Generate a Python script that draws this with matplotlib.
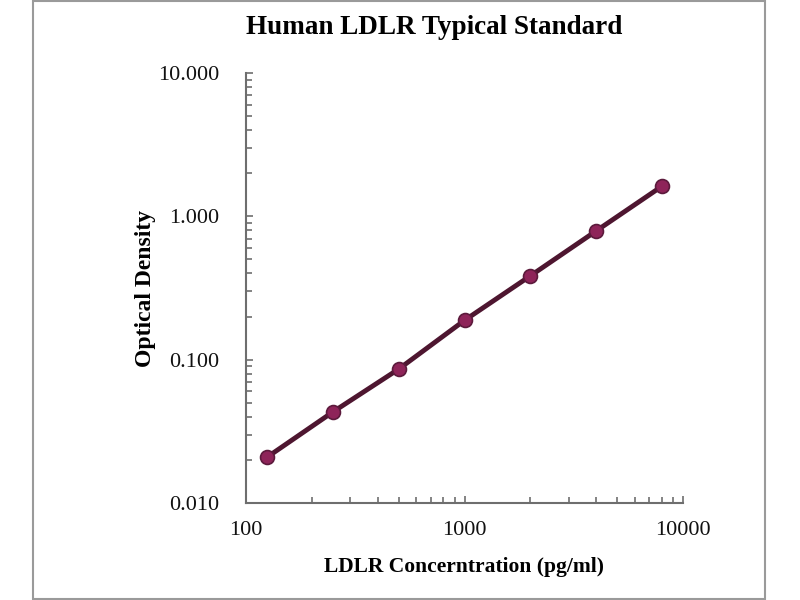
import matplotlib
matplotlib.use("Agg")
import matplotlib.pyplot as plt
from matplotlib.patches import Rectangle
from matplotlib.ticker import FixedLocator, FixedFormatter, LogLocator, NullFormatter
import numpy as np

# standard curve data
conc = [125, 250, 500, 1000, 2000, 4000, 8000]
od = [0.0209, 0.0432, 0.086, 0.188, 0.384, 0.79, 1.62]

x_ticks = [100, 1000, 10000]
x_labels = ["100", "1000", "10000"]
y_ticks = [0.01, 0.1, 1, 10]
y_labels = ["0.010", "0.100", "1.000", "10.000"]

plt.rcParams['font.family'] = ['Liberation Serif', 'DejaVu Serif']

fig = plt.figure(figsize=(8, 6), dpi=100)
fig.patches.append(Rectangle((33 / 800, 0.001), 732 / 800, 0.997, transform=fig.transFigure,
                             fill=False, edgecolor='#9a9a9a', linewidth=1.5))

ax = fig.add_axes([246 / 800, 1 - 503 / 600, (683 - 246) / 800, (503 - 73) / 600])
ax.set_xscale('log')
ax.set_yscale('log')
ax.set_xlim(100, 10000)
ax.set_ylim(0.01, 10)

ax.plot(conc, od, color='#4e1630', linewidth=3.5, zorder=2)
ax.plot(conc, od, linestyle='none', marker='o', markersize=10,
        markerfacecolor='#8e2459', markeredgecolor='#5c1a3c', markeredgewidth=1.2, zorder=3)

for s in ['top', 'right']:
    ax.spines[s].set_visible(False)
for s in ['left', 'bottom']:
    ax.spines[s].set_color('#6e6e6e')
    ax.spines[s].set_linewidth(1.5)

ax.xaxis.set_major_locator(FixedLocator(x_ticks))
ax.xaxis.set_major_formatter(FixedFormatter(x_labels))
ax.yaxis.set_major_locator(FixedLocator(y_ticks))
ax.yaxis.set_major_formatter(FixedFormatter(y_labels))
ax.xaxis.set_minor_locator(LogLocator(base=10, subs=np.arange(2, 10)))
ax.yaxis.set_minor_locator(LogLocator(base=10, subs=np.arange(2, 10)))
ax.xaxis.set_minor_formatter(NullFormatter())
ax.yaxis.set_minor_formatter(NullFormatter())

ax.tick_params(axis='both', which='both', direction='in', color='#6e6e6e', width=1.2)
ax.tick_params(axis='both', which='major', length=5, labelsize=16, labelcolor='#111111')
ax.tick_params(axis='both', which='minor', length=4)
ax.tick_params(axis='y', which='major', pad=19)
ax.tick_params(axis='x', which='major', pad=13)

ax.set_xlabel("LDLR Concerntration (pg/ml)", fontsize=15.5, fontweight='bold', labelpad=12)
ax.set_ylabel("Optical Density", fontsize=17, fontweight='bold', labelpad=2)
fig.text(434 / 800, 1 - 27 / 600, "Human LDLR Typical Standard", ha='center', va='center',
         fontsize=19.5, fontweight='bold')

fig.savefig("out.png", dpi=100)
